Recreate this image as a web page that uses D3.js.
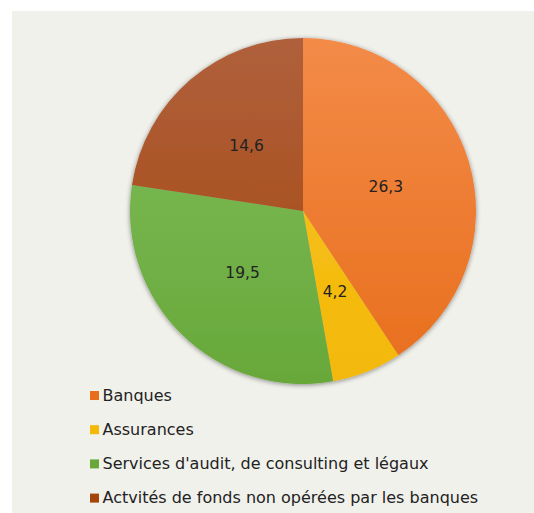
<!DOCTYPE html>
<html>
<head>
<meta charset="utf-8">
<script src="https://cdn.jsdelivr.net/npm/d3@7"></script>
<style>
  body { margin: 0; background: #fff; }
  svg { display: block; }
</style>
</head>
<body>
<div id="chart"></div>
<script>
// data
var categories = ["Banques", "Assurances", "Services d'audit, de consulting et légaux", "Actvités de fonds non opérées par les banques"];
var values = [26.3, 4.2, 19.5, 14.6];
var valueLabels = ["26,3", "4,2", "19,5", "14,6"];
var colorsTop = ["#f38b48", "#f7c424", "#80bf5c", "#b0603c"];
var colorsBottom = ["#e86e1c", "#f3b808", "#68a83a", "#a4460c"];

var w = 534, h = 513;
var cx = 303, cy = 211, radius = 173;

var svg = d3.select("#chart").append("svg")
    .attr("width", w)
    .attr("height", h);

// panel
svg.append("rect")
    .attr("x", 12).attr("y", 11)
    .attr("width", w - 12).attr("height", h - 11)
    .attr("fill", "#f1f1ec");

var defs = svg.append("defs");

var shadow = defs.append("filter").attr("id", "soft")
    .attr("x", "-10%").attr("y", "-10%").attr("width", "120%").attr("height", "120%");
shadow.append("feGaussianBlur").attr("in", "SourceAlpha").attr("stdDeviation", 2.5).attr("result", "b");
shadow.append("feOffset").attr("in", "b").attr("dx", 0).attr("dy", 1).attr("result", "o");
shadow.append("feComponentTransfer").attr("in", "o").attr("result", "s")
    .append("feFuncA").attr("type", "linear").attr("slope", 0.45);
var merge = shadow.append("feMerge");
merge.append("feMergeNode").attr("in", "s");
merge.append("feMergeNode").attr("in", "SourceGraphic");

// gradients, one per slice
categories.forEach(function(c, i) {
  var grad = defs.append("linearGradient")
      .attr("id", "grad" + i)
      .attr("gradientUnits", "userSpaceOnUse")
      .attr("x1", 0).attr("y1", -radius)
      .attr("x2", 0).attr("y2", radius);
  grad.append("stop").attr("offset", "0%").attr("stop-color", colorsTop[i]);
  grad.append("stop").attr("offset", "100%").attr("stop-color", colorsBottom[i]);
});

var g = svg.append("g")
    .attr("transform", "translate(" + cx + "," + cy + ")");

var pie = d3.pie()
    .sort(null)
    .value(function(d) { return d; });

var path = d3.arc()
    .outerRadius(radius)
    .innerRadius(0);

var label = d3.arc()
    .outerRadius(radius * 0.5)
    .innerRadius(radius * 0.5);

var arcs = pie(values);

g.append("g").attr("filter", "url(#soft)")
  .selectAll("path")
  .data(arcs)
  .enter().append("path")
    .attr("d", path)
    .attr("fill", function(d, i) { return "url(#grad" + i + ")"; });

g.selectAll(".lbl")
  .data(arcs)
  .enter().append("text")
    .attr("class", "lbl")
    .attr("text-anchor", "middle")
    .attr("dy", "0.35em")
    .attr("transform", function(d) { return "translate(" + label.centroid(d) + ")"; })
    .style("font-family", "'DejaVu Sans', sans-serif")
    .style("font-size", "15.5px")
    .attr("fill", "#222")
    .text(function(d, i) { return valueLabels[i]; });

// legend
var legend = svg.append("g")
    .attr("transform", "translate(90,395)");

var item = legend.selectAll(".item")
  .data(categories)
  .enter().append("g")
    .attr("class", "item")
    .attr("transform", function(d, i) { return "translate(0," + (i * 34.2) + ")"; });

item.append("rect")
    .attr("x", 0).attr("y", -4)
    .attr("width", 9).attr("height", 9)
    .attr("fill", function(d, i) { return colorsBottom[i]; });

item.append("text")
    .attr("x", 12.5)
    .attr("dy", "0.35em")
    .style("font-family", "'DejaVu Sans', sans-serif")
    .style("font-size", "16px")
    .attr("fill", "#222")
    .text(function(d) { return d; });
</script>
</body>
</html>
